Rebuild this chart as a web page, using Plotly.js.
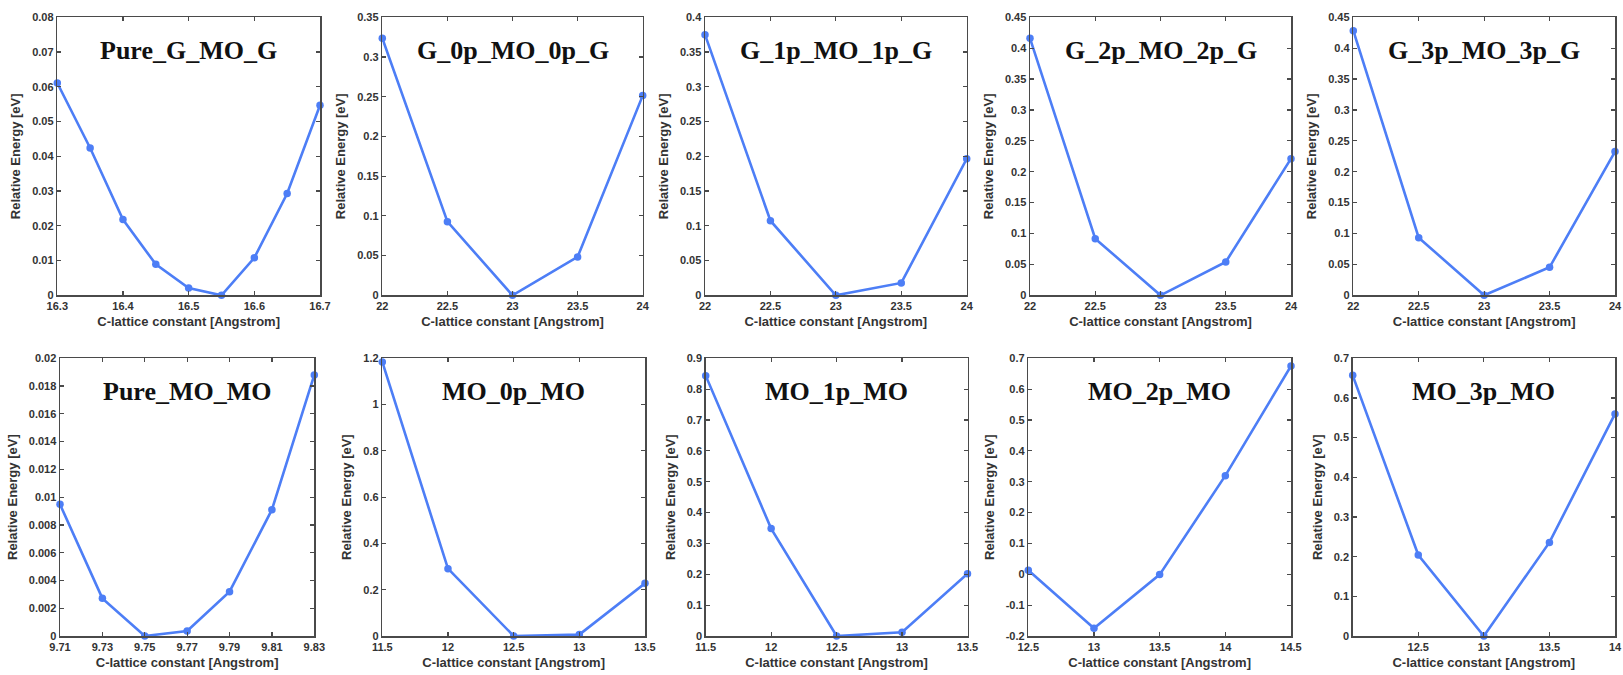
<!DOCTYPE html>
<html>
<head>
<meta charset="utf-8">
<script src="https://cdn.plot.ly/plotly-3.0.1.min.js"></script>
<style>html,body{margin:0;padding:0;background:#fff;}#chart{width:1623px;height:675px;}</style>
</head>
<body>
<div id="chart"></div>
<script>
// ---- data ----
const panelTitles = ["Pure_G_MO_G","G_0p_MO_0p_G","G_1p_MO_1p_G","G_2p_MO_2p_G","G_3p_MO_3p_G",
                     "Pure_MO_MO","MO_0p_MO","MO_1p_MO","MO_2p_MO","MO_3p_MO"];

const xPureGMOG = [16.3,16.35,16.4,16.45,16.5,16.55,16.6,16.65,16.7];
const yPureGMOG = [0.0611,0.0424,0.0218,0.0089,0.0021,0.0,0.0108,0.0293,0.0547];

const xG0p = [22,22.5,23,23.5,24];
const yG0p = [0.3236,0.0927,0.0,0.0483,0.2514];

const xG1p = [22,22.5,23,23.5,24];
const yG1p = [0.375,0.1073,0.0,0.0178,0.1964];

const xG2p = [22,22.5,23,23.5,24];
const yG2p = [0.416,0.0917,0.0,0.054,0.2212];

const xG3p = [22,22.5,23,23.5,24];
const yG3p = [0.4284,0.0933,0.0,0.0453,0.2326];

const xPureMOMO = [9.71,9.73,9.75,9.77,9.79,9.81,9.83];
const yPureMOMO = [0.00948,0.00271,0.0,0.00036,0.00319,0.0091,0.0188];

const xMO0p = [11.5,12,12.5,13,13.5];
const yMO0p = [1.184,0.291,0.0,0.006,0.2276];

const xMO1p = [11.5,12,12.5,13,13.5];
const yMO1p = [0.8438,0.348,0.0,0.012,0.202];

const xMO2p = [12.5,13,13.5,14,14.5];
const yMO2p = [0.0128,-0.175,-0.001,0.3197,0.675];

const xMO3p = [12,12.5,13,13.5,14];
const yMO3p = [0.657,0.204,0.0,0.236,0.5597];

const xTitle = "C-lattice constant [Angstrom]";
const yTitle = "Relative Energy [eV]";

// axis tick labels
const mo2pTickVals = [-0.2,-0.1,0,0.1,0.2,0.3,0.4,0.5,0.6,0.7];
const mo2pTickText = ["-0.2","-0.1","0","0.1","0.2","0.3","0.4","0.5","0.6","0.7"];
const mo3pXTickVals = [12.5,13,13.5,14];

const seriesX = [xPureGMOG,xG0p,xG1p,xG2p,xG3p,xPureMOMO,xMO0p,xMO1p,xMO2p,xMO3p];
const seriesY = [yPureGMOG,yG0p,yG1p,yG2p,yG3p,yPureMOMO,yMO0p,yMO1p,yMO2p,yMO3p];

// ---- layout geometry ----
const W = 1623, H = 675;
const xPix = [[57.3,320],[382.3,642.7],[705,966.7],[1030,1291],[1353.3,1615],
              [60,314.3],[382.3,645],[705.7,967.5],[1028.3,1291],[1352.7,1615]];
const topRowPix = [17.3,295.3], botRowPix = [358.3,636];

const xRanges = [[16.3,16.7],[22,24],[22,24],[22,24],[22,24],[9.71,9.83],[11.5,13.5],[11.5,13.5],[12.5,14.5],[12,14]];
const xDticks = [0.1,0.5,0.5,0.5,0.5,0.02,0.5,0.5,0.5,0.5];
const yRanges = [[0,0.08],[0,0.35],[0,0.4],[0,0.45],[0,0.45],[0,0.02],[0,1.2],[0,0.9],[-0.2,0.7],[0,0.7]];
const yDticks = [0.01,0.05,0.05,0.05,0.05,0.002,0.2,0.1,0.1,0.1];

const lineColor = '#4d7ef6';
const axisColor = '#4a4a4a';
const tickFont = {family:'Liberation Sans, Arial, sans-serif', size:11, color:'#333', weight:'bold'};
const titleFont = {family:'Liberation Sans, Arial, sans-serif', size:13, color:'#333', weight:'bold'};

const traces = [];
const layout = {
  width: W, height: H,
  margin: {l:0,r:0,t:0,b:0},
  paper_bgcolor: '#fff', plot_bgcolor: '#fff',
  showlegend: false,
  annotations: []
};

for (let i = 0; i < 10; i++) {
  const n = i + 1;
  const xa = n === 1 ? 'x' : 'x' + n;
  const ya = n === 1 ? 'y' : 'y' + n;
  traces.push({
    x: seriesX[i], y: seriesY[i], xaxis: xa, yaxis: ya,
    type: 'scatter', mode: 'lines+markers',
    line: {color: lineColor, width: 2.6},
    marker: {color: lineColor, size: 7.5},
    cliponaxis: false,
    hoverinfo: 'x+y'
  });
  const rowPix = i < 5 ? topRowPix : botRowPix;
  const xd = [xPix[i][0]/W, xPix[i][1]/W];
  const yd = [1 - rowPix[1]/H, 1 - rowPix[0]/H];
  const common = {
    showgrid: false, zeroline: false, showline: true, mirror: 'ticks',
    linecolor: axisColor, linewidth: 1.5,
    ticks: 'inside', ticklen: 4, tickwidth: 1.2, tickcolor: axisColor,
    tickfont: tickFont, automargin: false, fixedrange: true
  };
  const xaxis = Object.assign({}, common, {
    domain: xd, range: xRanges[i], dtick: xDticks[i], tick0: xRanges[i][0],
    anchor: ya, title: {text: xTitle, font: titleFont, standoff: 6}
  });
  if (i === 9) { xaxis.tickmode = 'array'; xaxis.tickvals = mo3pXTickVals; }
  const yaxis = Object.assign({}, common, {
    domain: yd, range: yRanges[i], dtick: yDticks[i], tick0: 0,
    anchor: xa, title: {text: yTitle, font: titleFont, standoff: 8}
  });
  if (i === 8) { yaxis.tickmode = 'array'; yaxis.tickvals = mo2pTickVals; yaxis.ticktext = mo2pTickText; }
  layout['xaxis' + (n === 1 ? '' : n)] = xaxis;
  layout['yaxis' + (n === 1 ? '' : n)] = yaxis;
  layout.annotations.push({
    text: panelTitles[i], xref: xa + ' domain', yref: ya + ' domain',
    x: 0.5, y: 1 - 33/278, xanchor: 'center', yanchor: 'middle', showarrow: false,
    font: {family: 'Liberation Serif, Times New Roman, serif', size: 26, color: '#111', weight: 'bold'}
  });
}

Plotly.newPlot('chart', traces, layout, {displayModeBar: false, staticPlot: true});
</script>
</body>
</html>
